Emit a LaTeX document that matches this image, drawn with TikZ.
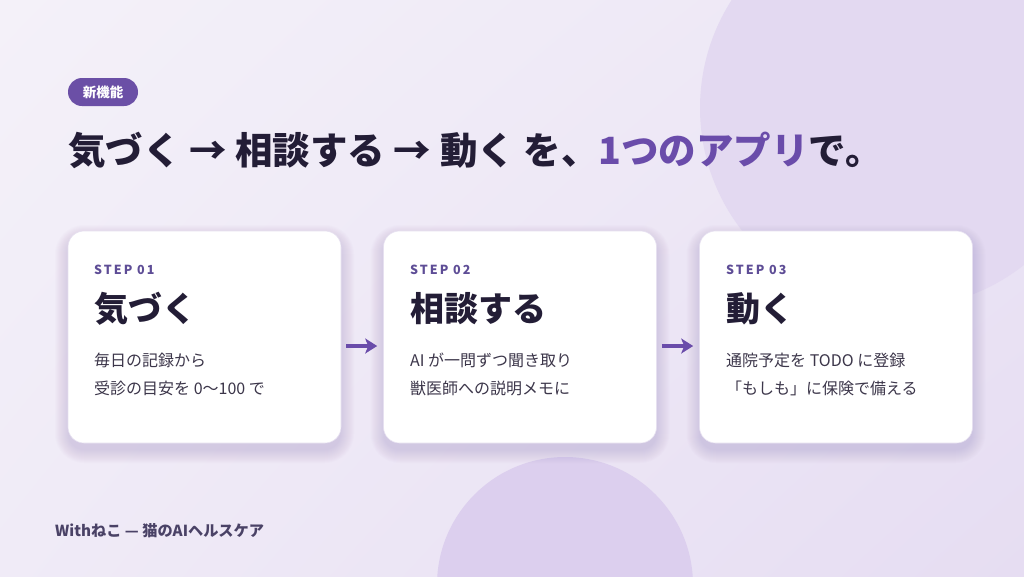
\documentclass[tikz,border=0pt]{standalone}
\usepackage{fontspec}
\setmainfont{Noto Sans CJK JP}
\newfontfamily\stepfont[LetterSpace=16]{Noto Sans CJK JP}
\usetikzlibrary{arrows.meta,shadings}
\definecolor{bgA}{HTML}{F4F1F9}
\definecolor{bgB}{HTML}{E6DDF2}
\definecolor{blobA}{HTML}{E3D9F1}
\definecolor{blobB}{HTML}{DCCFEE}
\definecolor{accent}{HTML}{6A4CAA}
\definecolor{pill}{HTML}{6B4FA6}
\definecolor{ink}{HTML}{231D36}
\definecolor{body}{HTML}{3C364A}
\definecolor{stepc}{HTML}{5E4D96}
\definecolor{foot}{HTML}{4A4266}
\definecolor{cardline}{HTML}{E6E0F0}
\definecolor{shadowc}{HTML}{8C78B8}
\newcommand\softshadow[2]{%
  \foreach \i in {0,...,13} {
    \pgfmathsetmacro\rr{16+\i}
    \fill[shadowc, opacity=0.018, rounded corners=\rr pt]
      (#1-136.5-\i, #2+7-106-\i) rectangle (#1+136.5+\i, #2+7+106+\i);
  }}
\tikzset{
  card/.style={draw=cardline, line width=0.6pt, fill=white, rounded corners=16pt,
    minimum width=273pt, minimum height=212pt, inner sep=0pt},
  steplabel/.style={anchor=west, inner sep=0pt, text=stepc, font=\stepfont\bfseries\fontsize{12.5}{14}\selectfont},
  title/.style={anchor=west, inner sep=0pt, text=ink, font=\bfseries\fontsize{34}{38}\selectfont},
  bodytext/.style={anchor=west, inner sep=0pt, text=body, font=\fontsize{16}{18}\selectfont},
  flow/.style={draw=accent, line width=4pt, -{Stealth[length=12pt,width=15pt,inset=3pt]}},
}
\begin{document}
\begin{tikzpicture}[x=1pt,y=-1pt]
\useasboundingbox (0,0) rectangle (1024,576);
\shade[upper left=bgA, lower left=bgA!70!bgB, upper right=bgA!45!bgB, lower right=bgB] (0,0) rectangle (1024,576);
\begin{scope}
\clip (0,0) rectangle (1024,576);
\fill[blobA] (900,108) circle (200);
\fill[blobB] (565,585) circle (128);
\end{scope}

% pill
\node[fill=pill, rounded corners=14pt, minimum width=70pt, minimum height=28pt, inner sep=0pt,
  text=white, font=\bfseries\fontsize{13.5}{15}\selectfont] (pill) at (103,92) {新機能};

% headline
\node[anchor=west, inner sep=0pt, text=ink, font=\bfseries\fontsize{37.5}{42}\selectfont] (head) at (68,150)
  {気づく → 相談する → 動く を、\textcolor{accent}{1つのアプリ}で。};

% shadows
\softshadow{204.5}{337}
\softshadow{520}{337}
\softshadow{836}{337}

% cards
\node[card] (c1) at (204.5,337) {};
\node[card] (c2) at (520,337) {};
\node[card] (c3) at (836,337) {};

\node[steplabel] (s1) at (94,270) {STEP 01};
\node[title] (t1) at (94,309) {気づく};
\node[bodytext] (b1a) at (94,360) {毎日の記録から};
\node[bodytext] (b1b) at (94,388) {受診の目安を 0〜100 で};

\node[steplabel] (s2) at (410,270) {STEP 02};
\node[title] (t2) at (410,309) {相談する};
\node[bodytext] (b2a) at (410,360) {AI が一問ずつ聞き取り};
\node[bodytext] (b2b) at (410,388) {獣医師への説明メモに};

\node[steplabel] (s3) at (726,270) {STEP 03};
\node[title] (t3) at (726,309) {動く};
\node[bodytext] (b3a) at (726,360) {通院予定を TODO に登録};
\node[bodytext] (b3b) at (726,388) {「もしも」に保険で備える};

\draw[flow, shorten <=5pt, shorten >=6pt] ([yshift=-9pt]c1.east) -- ([yshift=-9pt]c2.west);
\draw[flow, shorten <=5pt, shorten >=6pt] ([yshift=-9pt]c2.east) -- ([yshift=-9pt]c3.west);

% footer
\node[anchor=west, inner sep=0pt, text=foot, font=\bfseries\fontsize{15.2}{17}\selectfont] (footer) at (55,531)
  {Withねこ — 猫のAIヘルスケア};
\end{tikzpicture}
\end{document}
